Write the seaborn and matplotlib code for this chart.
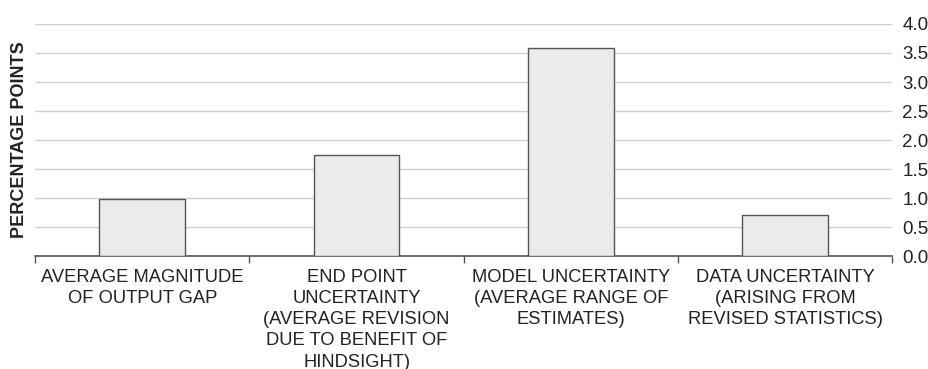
import matplotlib
matplotlib.use("Agg")
import matplotlib.pyplot as plt
import seaborn as sns
import pandas as pd
from matplotlib.ticker import FixedLocator

categories = [
    "AVERAGE MAGNITUDE\nOF OUTPUT GAP",
    "END POINT\nUNCERTAINTY\n(AVERAGE REVISION\nDUE TO BENEFIT OF\nHINDSIGHT)",
    "MODEL UNCERTAINTY\n(AVERAGE RANGE OF\nESTIMATES)",
    "DATA UNCERTAINTY\n(ARISING FROM\nREVISED STATISTICS)",
]
values = [0.98, 1.74, 3.58, 0.70]
yticks = [0.0, 0.5, 1.0, 1.5, 2.0, 2.5, 3.0, 3.5, 4.0]

sns.set_style("white")
plt.rcParams['font.family'] = ['Liberation Sans', 'DejaVu Sans']

df = pd.DataFrame({"cat": categories, "val": values})
fig = plt.figure(figsize=(9.29, 3.69), dpi=100)
ax = fig.add_axes([0.0377, 0.306, 0.923, 0.629])
sns.barplot(data=df, x="cat", y="val", color="#ebebeb", edgecolor="#555555",
            linewidth=1.0, width=0.4, saturation=1, ax=ax, zorder=3)

ax.set_ylim(0, 4.0)
ax.set_xlim(-0.5, 3.5)
ax.yaxis.tick_right()
ax.set_yticks(yticks)
ax.set_yticklabels([f"{v:.1f}" for v in yticks], fontsize=13.5, color="#222222")
ax.tick_params(axis="y", length=0, pad=7)
ax.grid(axis="y", color="#d0d0d0", linewidth=1.0, zorder=0)
ax.set_axisbelow(True)

ax.set_xticks(range(4))
ax.set_xticklabels(categories, fontsize=13.2, color="#222222", linespacing=1.33)
ax.tick_params(axis="x", which="major", length=0, pad=9)
ax.xaxis.set_minor_locator(FixedLocator([-0.5, 0.5, 1.5, 2.5, 3.5]))
ax.tick_params(axis="x", which="minor", bottom=True, length=5, color="#555555", width=1)

ax.set_xlabel("")
ax.set_ylabel("PERCENTAGE POINTS", fontsize=13, fontweight="bold", color="#222222")
ax.yaxis.set_label_position("left")
ax.yaxis.labelpad = 5

for s in ["top", "left", "right"]:
    ax.spines[s].set_visible(False)
ax.spines["bottom"].set_color("#555555")
ax.spines["bottom"].set_linewidth(1.2)

fig.savefig("out.png", dpi=100)
